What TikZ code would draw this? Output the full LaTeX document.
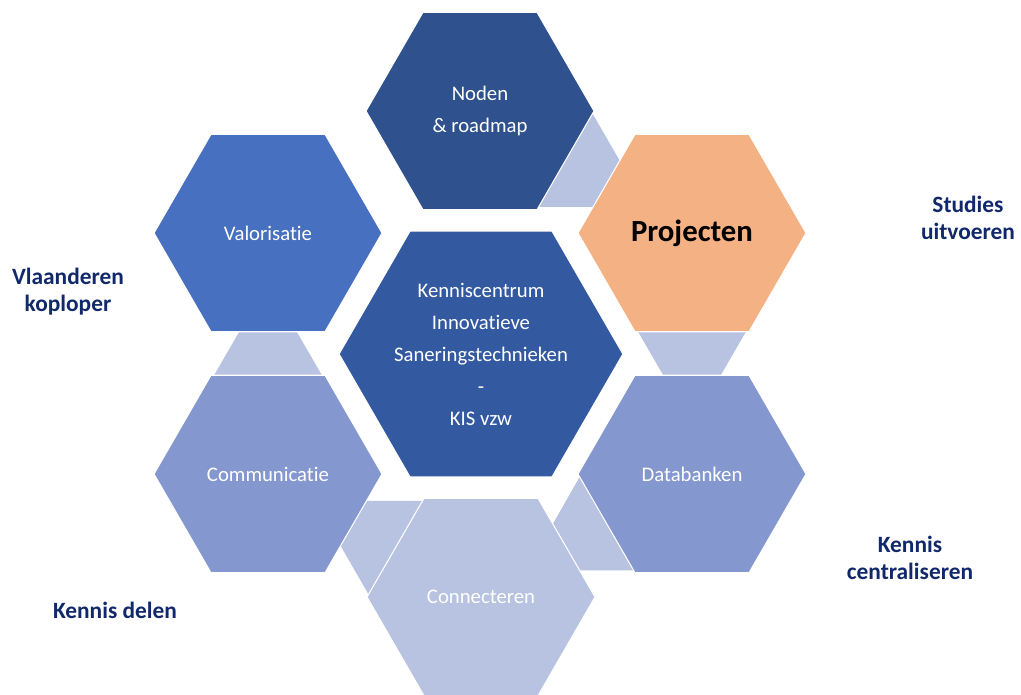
\documentclass[tikz,border=0pt]{standalone}
\usepackage{fontspec}
\setmainfont{Carlito}[Ligatures={NoCommon,NoContextual}]
\usetikzlibrary{shapes.geometric,calc,backgrounds}
\definecolor{donker}{RGB}{47,82,143}
\definecolor{midden}{RGB}{51,89,160}
\definecolor{accent}{RGB}{72,112,192}
\definecolor{licht}{RGB}{132,152,207}
\definecolor{zacht}{RGB}{184,195,225}
\definecolor{oranje}{RGB}{244,177,131}
\definecolor{navy}{RGB}{17,41,107}
\newcommand{\verbinding}[2]{
  \fill[zacht] ($(#1)!22.2mm!90:(#2)$) -- ($(#1)!38.4mm!(#2)$) --
  ($(#1)!22.2mm!-90:(#2)$) -- cycle;}

\begin{document}
\begin{tikzpicture}[x=0.2mm, y=-0.2mm]

\tikzset{ hexa/.style={regular polygon, regular polygon sides=6, minimum size=45.6mm,
    inner sep=0pt, draw=white, line width=0.6pt, text=white, align=center,
    font={\fontsize{11.8}{18.2}\selectfont}},
  doel/.style={align=center, text=navy, inner sep=0pt,
    font={\fontsize{13.3}{15.4}\selectfont\bfseries}}
}

\useasboundingbox (0,0) rectangle (1021,695);

% Hexagons
\node[hexa, fill=donker] (noden) at (480,111) {Noden\\\& roadmap};
\node[hexa, fill=oranje, text=black, font={\fontsize{17.5}{20}\selectfont\bfseries}]
  (projecten) at (692,233) {Projecten};
\node[hexa, fill=accent] (valorisatie) at (268,233) {Valorisatie};
\node[hexa, fill=midden, minimum size=55.6mm] (centrum) at (481,354)
  {Kenniscentrum\\Innovatieve\\Saneringstechnieken\\-\\KIS vzw};
\node[hexa, fill=licht] (communicatie) at (268,474) {Communicatie};
\node[hexa, fill=licht] (databanken) at (692,474) {Databanken};
\node[hexa, fill=zacht] (connecteren) at (481,597) {Connecteren};

% Connectors behind the hexagons
\begin{pgfonlayer}{background}
  \verbinding{noden}{projecten}
  \verbinding{projecten}{databanken}
  \verbinding{databanken}{connecteren}
  \verbinding{connecteren}{communicatie}
  \verbinding{communicatie}{valorisatie}
\end{pgfonlayer}

% Goals
\node[doel] (vlaanderen) at (68,292) {Vlaanderen\\koploper};
\node[doel] (studies) at (968,218) {Studies\\uitvoeren};
\node[doel] (centraliseren) at (910,558) {Kennis\\centraliseren};
\node[doel] (delen) at (115,610) {Kennis delen};

\end{tikzpicture}
\end{document}
